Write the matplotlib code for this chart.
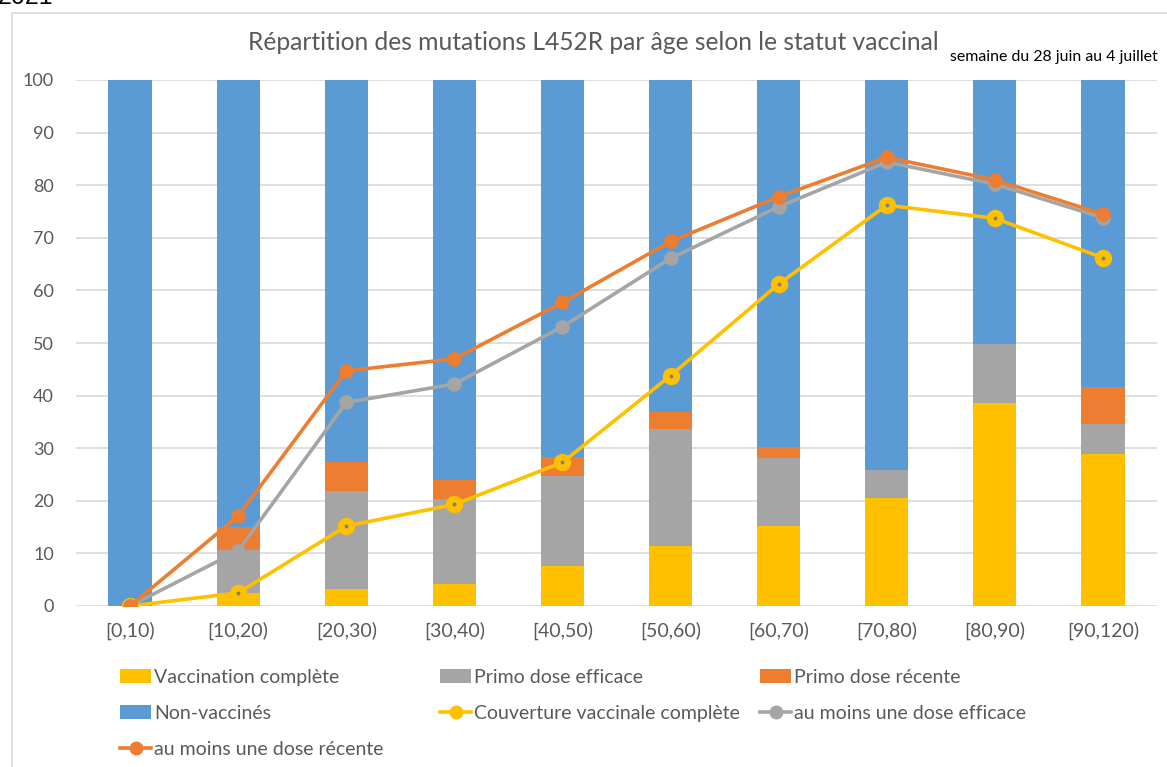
"""
Répartition des mutations L452R par âge selon le statut vaccinal (stacked bars + lines).
"""

import matplotlib
matplotlib.use('Agg')
import matplotlib.pyplot as plt
from matplotlib.patches import Rectangle, Patch
from matplotlib.lines import Line2D
import numpy as np

age_groups = ['[0,10)', '[10,20)', '[20,30)', '[30,40)', '[40,50)',
              '[50,60)', '[60,70)', '[70,80)', '[80,90)', '[90,120)']

# stacked bar segments (%)
vacc_complete = [0, 2.5, 3.2, 4.2, 7.6, 11.4, 15.2, 20.5, 38.6, 28.9]
primo_efficace = [0, 8.1, 18.7, 16.1, 17.1, 22.2, 12.9, 5.4, 11.2, 5.7]
primo_recente = [0, 4.4, 5.4, 3.7, 3.6, 3.3, 2.1, 0, 0, 7.0]
non_vaccines = [100, 85.0, 72.7, 76.0, 71.7, 63.1, 69.8, 74.1, 50.2, 58.4]

# lines (%)
couverture_complete = [0, 2.5, 15.2, 19.3, 27.3, 43.8, 61.2, 76.2, 73.7, 66.2]
au_moins_efficace = [0, 10.5, 38.7, 42.2, 53.1, 66.1, 75.9, 84.4, 80.2, 73.8]
au_moins_recente = [0, 17.1, 44.7, 47.0, 57.7, 69.3, 77.8, 85.3, 81.0, 74.5]

YELLOW = '#FFC000'
GREY = '#A5A5A5'
ORANGE = '#ED7D31'
BLUE = '#5B9BD5'
TEXT = '#595959'

plt.rcParams['font.family'] = ['Lato', 'DejaVu Sans']

fig = plt.figure(figsize=(11.67, 7.67), dpi=100)
ax = fig.add_axes([76 / 1167, 1 - 606 / 767, (1157 - 76) / 1167, (606 - 80) / 767])

x = np.arange(len(age_groups))
w = 0.4
b1 = np.array(vacc_complete)
b2 = b1 + np.array(primo_efficace)
b3 = b2 + np.array(primo_recente)
ax.bar(x, vacc_complete, w, color=YELLOW, zorder=2)
ax.bar(x, primo_efficace, w, bottom=b1, color=GREY, zorder=2)
ax.bar(x, primo_recente, w, bottom=b2, color=ORANGE, zorder=2)
ax.bar(x, non_vaccines, w, bottom=b3, color=BLUE, zorder=2)

ax.plot(x, couverture_complete, color=YELLOW, lw=2.6, marker='o', ms=11.5, zorder=3)
ax.plot(x, couverture_complete, ls='none', marker='o', ms=1.8, color='#7F7F7F', zorder=3.1)
ax.plot(x, au_moins_efficace, color=GREY, lw=2.6, marker='o', ms=9.5, zorder=4)
ax.plot(x, au_moins_recente, color=ORANGE, lw=2.6, marker='o', ms=9.5, zorder=5)

ax.set_xlim(-0.5, len(age_groups) - 0.5)
ax.set_ylim(0, 100)
ax.set_yticks(range(0, 101, 10))
ax.set_xticks(x)
ax.set_xticklabels(age_groups)
ax.tick_params(axis='both', length=0, labelsize=13, colors=TEXT)
ax.tick_params(axis='x', labelsize=14, pad=11)
ax.tick_params(axis='y', pad=16)
ax.grid(axis='y', color='#D9D9D9', lw=1.2, zorder=0)
for s in ax.spines.values():
    s.set_visible(False)

fig.text(593 / 1167, 1 - 43 / 767, 'Répartition des mutations L452R par âge selon le statut vaccinal',
         ha='center', va='center', fontsize=17.7, color=TEXT)
fig.text(1158 / 1167, 1 - 57 / 767, 'semaine du 28 juin au 4 juillet',
         ha='right', va='center', fontsize=11.4, color='black')
fig.text(-2 / 1167, 1 - 4 / 767, '2021', ha='left', va='baseline', fontsize=18,
         family='Liberation Sans', color='black')

fig.patches.append(Rectangle((12 / 1167, -0.05), 1.2, 1 - 13 / 767 + 0.05,
                             transform=fig.transFigure, fill=False,
                             edgecolor='#D9D9D9', lw=1.2))

def sq(c):
    return Patch(facecolor=c, edgecolor='none')

def ln(c):
    return Line2D([], [], color=c, lw=2.6, marker='o', ms=9)

columns = [
    (120, [(sq(YELLOW), 'Vaccination complète'), (sq(BLUE), 'Non-vaccinés'),
           (ln(ORANGE), 'au moins une dose récente')]),
    (440, [(sq(GREY), 'Primo dose efficace'), (ln(YELLOW), 'Couverture vaccinale complète')]),
    (760, [(sq(ORANGE), 'Primo dose récente'), (ln(GREY), 'au moins une dose efficace')]),
]
for px, items in columns:
    leg = fig.legend([h for h, _ in items], [t for _, t in items],
                     loc='upper left', bbox_to_anchor=(px / 1167, 1 - 669 / 767),
                     frameon=False, fontsize=14, labelcolor=TEXT,
                     handlelength=1.6, handleheight=0.7, handletextpad=0.15,
                     labelspacing=0.98, borderaxespad=0, borderpad=0)

fig.savefig('out.png', dpi=100)
